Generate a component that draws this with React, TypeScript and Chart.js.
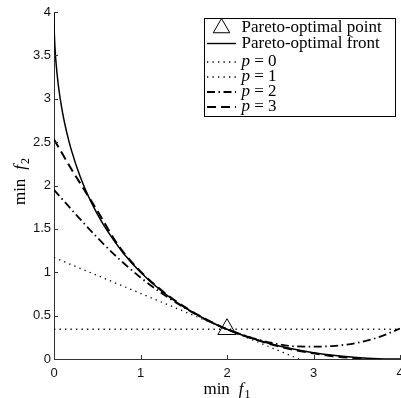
import React, { useEffect, useRef } from "react";
import { Chart, registerables } from "chart.js";

Chart.register(...registerables);

// ---- data ----
const frontX = [0, 0.001, 0.005, 0.01, 0.02, 0.05, 0.1, 0.15, 0.2, 0.3, 0.4, 0.5, 0.6, 0.8, 1, 1.25, 1.5, 1.75, 2, 2.25, 2.5, 2.75, 3, 3.25, 3.5, 3.75, 4];
const frontY = [4.0, 3.875, 3.722, 3.61, 3.455, 3.156, 2.835, 2.601, 2.411, 2.109, 1.87, 1.672, 1.502, 1.222, 1.0, 0.778, 0.601, 0.458, 0.343, 0.25, 0.176, 0.117, 0.072, 0.039, 0.017, 0.004, 0];

const p0X = [0, 4];
const p0Y = [0.343, 0.343];

const p1X = [0, 2, 2.83];
const p1Y = [1.17, 0.343, 0];

const p2X = [0, 0.25, 0.5, 0.75, 1, 1.25, 1.5, 1.75, 2, 2.25, 2.5, 2.75, 3, 3.25, 3.5, 3.75, 4];
const p2Y = [1.95, 1.67, 1.4, 1.155, 0.94, 0.755, 0.595, 0.455, 0.343, 0.255, 0.19, 0.148, 0.142, 0.152, 0.185, 0.25, 0.35];

const p3X = [0, 0.1, 0.2, 0.3, 0.4, 0.5, 0.75, 1, 1.25, 1.5, 1.75, 2, 2.25, 2.5, 2.75, 3, 3.25, 3.5, 3.75, 4];
const p3Y = [2.53, 2.36, 2.19, 2.03, 1.87, 1.71, 1.3, 1.01, 0.785, 0.606, 0.462, 0.343, 0.25, 0.172, 0.11, 0.065, 0.03, 0.008, -0.01, -0.03];

const optX = [2];
const optY = [0.343];

const xTicks = [0, 1, 2, 3, 4];
const yTicks = [0, 0.5, 1, 1.5, 2, 2.5, 3, 3.5, 4];

const legendLabels = ["Pareto-optimal point", "Pareto-optimal front", "p = 0", "p = 1", "p = 2", "p = 3"];
const xTitleMain = "min";
const xTitleVar = "f";
const xTitleSub = "1";
const yTitleMain = "min";
const yTitleVar = "f";
const yTitleSub = "2";

const pts = (xs: number[], ys: number[]) => xs.map((x, i) => ({ x, y: ys[i] }));

const SERIF = '"Liberation Serif", "Times New Roman", serif';
const SANS = '"Liberation Sans", Arial, sans-serif';

const DASH_P0 = [1.3, 4.2];
const DASH_P1 = [1.3, 4.2];
const DASH_P2 = [8, 3.5, 1.5, 3.5];
const DASH_P3 = [9, 5];

function drawTriangle(ctx: CanvasRenderingContext2D, cx: number, cy: number, r: number) {
  ctx.beginPath();
  ctx.moveTo(cx, cy - r);
  ctx.lineTo(cx + r * 0.866, cy + r * 0.5);
  ctx.lineTo(cx - r * 0.866, cy + r * 0.5);
  ctx.closePath();
  ctx.stroke();
}

const tickPlugin = {
  id: "innerTicks",
  afterDraw(chart: any) {
    const { ctx, chartArea, scales } = chart;
    const xs = scales.x, ys = scales.y;
    ctx.save();
    ctx.strokeStyle = "#333";
    ctx.lineWidth = 1;
    ctx.beginPath();
    xTicks.forEach((v) => {
      const px = Math.round(xs.getPixelForValue(v)) + 0.5;
      ctx.moveTo(px, chartArea.bottom);
      ctx.lineTo(px, chartArea.bottom - 4);
    });
    yTicks.forEach((v) => {
      const py = Math.round(ys.getPixelForValue(v)) + 0.5;
      ctx.moveTo(chartArea.left, py);
      ctx.lineTo(chartArea.left + 4, py);
    });
    ctx.stroke();
    ctx.restore();
  },
};

function drawMathTitle(ctx: CanvasRenderingContext2D, main: string, v: string, sub: string, cx: number, baseline: number) {
  const mainFont = `17px ${SERIF}`;
  const varFont = `italic 17px ${SERIF}`;
  const subFont = `12px ${SERIF}`;
  const gap = 9;
  ctx.font = mainFont;
  const wMain = ctx.measureText(main).width;
  ctx.font = varFont;
  const wVar = ctx.measureText(v).width;
  ctx.font = subFont;
  const wSub = ctx.measureText(sub).width;
  const total = wMain + gap + wVar + 1 + wSub;
  let x = cx - total / 2;
  ctx.textBaseline = "alphabetic";
  ctx.textAlign = "left";
  ctx.font = mainFont;
  ctx.fillText(main, x, baseline);
  x += wMain + gap;
  ctx.font = varFont;
  ctx.fillText(v, x, baseline);
  x += wVar + 1;
  ctx.font = subFont;
  ctx.fillText(sub, x, baseline + 4);
}

const titlePlugin = {
  id: "mathTitles",
  afterDraw(chart: any) {
    const { ctx, chartArea } = chart;
    ctx.save();
    ctx.fillStyle = "#000";
    const cx = (chartArea.left + chartArea.right) / 2;
    drawMathTitle(ctx, xTitleMain, xTitleVar, xTitleSub, cx, 394);
    const cy = (chartArea.top + chartArea.bottom) / 2 - 4;
    ctx.translate(25, cy);
    ctx.rotate(-Math.PI / 2);
    drawMathTitle(ctx, yTitleMain, yTitleVar, yTitleSub, 0, 0);
    ctx.restore();
  },
};

const legendPlugin = {
  id: "mathLegend",
  afterDraw(chart: any) {
    const ctx: CanvasRenderingContext2D = chart.ctx;
    const l = 204, t = 18, r = 395, b = 116;
    const rows = [28, 43.5, 62, 77, 92, 107];
    const s0 = 207, s1 = 236, tx = 241.5;
    ctx.save();
    ctx.fillStyle = "#fff";
    ctx.fillRect(l, t, r - l, b - t);
    ctx.strokeStyle = "#000";
    ctx.lineWidth = 1;
    ctx.strokeRect(l + 0.5, t + 0.5, r - l, b - t);
    const styles: { dash: number[]; w: number }[] = [
      { dash: [], w: 0 },
      { dash: [], w: 1.4 },
      { dash: DASH_P0, w: 1.3 },
      { dash: DASH_P1, w: 1.3 },
      { dash: DASH_P2, w: 1.8 },
      { dash: DASH_P3, w: 2 },
    ];
    rows.forEach((ry, i) => {
      const st = styles[i];
      ctx.strokeStyle = "#000";
      if (i === 0) {
        ctx.lineWidth = 1;
        ctx.setLineDash([]);
        drawTriangle(ctx, (s0 + s1) / 2, ry, 9.5);
      } else {
        ctx.lineWidth = st.w;
        ctx.setLineDash(st.dash);
        ctx.beginPath();
        ctx.moveTo(s0, ry);
        ctx.lineTo(s1, ry);
        ctx.stroke();
        ctx.setLineDash([]);
      }
      ctx.fillStyle = "#000";
      ctx.textBaseline = "alphabetic";
      ctx.textAlign = "left";
      const label = legendLabels[i];
      if (label.startsWith("p ")) {
        ctx.font = `italic 17px ${SERIF}`;
        ctx.fillText("p", tx, ry + 4);
        const wp = ctx.measureText("p").width;
        ctx.font = `17px ${SERIF}`;
        ctx.fillText(label.slice(1), tx + wp, ry + 4);
      } else {
        ctx.font = `17px ${SERIF}`;
        ctx.fillText(label, tx, ry + 4);
      }
    });
    ctx.restore();
  },
};

export default function App() {
  const ref = useRef<HTMLCanvasElement>(null);
  useEffect(() => {
    if (!ref.current) return;
    const line = (data: any, dash: number[], w: number) => ({
      data,
      showLine: true,
      borderColor: "#000",
      backgroundColor: "#000",
      borderWidth: w,
      borderDash: dash,
      pointRadius: 0,
      pointHoverRadius: 0,
      cubicInterpolationMode: "monotone",
      fill: false,
    });
    const chart = new Chart(ref.current, {
      type: "scatter",
      data: {
        datasets: [
          {
            label: legendLabels[0],
            data: pts(optX, optY),
            showLine: false,
            pointStyle: "triangle",
            pointRadius: 10.5,
            borderWidth: 1,
            borderColor: "#000",
            backgroundColor: "rgba(0,0,0,0)",
          } as any,
          { label: legendLabels[1], ...line(pts(frontX, frontY), [], 1.5) } as any,
          { label: legendLabels[2], ...line(pts(p0X, p0Y), DASH_P0, 1.3) } as any,
          { label: legendLabels[3], ...line(pts(p1X, p1Y), DASH_P1, 1.3) } as any,
          { label: legendLabels[4], ...line(pts(p2X, p2Y), DASH_P2, 1.8) } as any,
          { label: legendLabels[5], ...line(pts(p3X, p3Y), DASH_P3, 2) } as any,
        ],
      },
      options: {
        animation: false,
        responsive: false,
        devicePixelRatio: 1,
        layout: { autoPadding: false, padding: { top: 12, right: 1, bottom: 0, left: 0 } },
        plugins: { legend: { display: false }, tooltip: { enabled: false } },
        scales: {
          x: {
            type: "linear",
            min: 0,
            max: 4,
            afterBuildTicks: (s: any) => {
              s.ticks = xTicks.map((v) => ({ value: v }));
            },
            afterFit: (s: any) => {
              s.height = 39;
              s.paddingLeft = 0;
              s.paddingRight = 0;
            },
            grid: { display: false, drawTicks: false },
            border: { display: true, color: "#333", width: 1 },
            ticks: {
              padding: 7,
              color: "#111",
              font: { family: SANS, size: 13 },
              maxRotation: 0,
              callback: (v: any) => String(v),
            },
          },
          y: {
            type: "linear",
            min: 0,
            max: 4,
            afterBuildTicks: (s: any) => {
              s.ticks = yTicks.map((v) => ({ value: v }));
            },
            afterFit: (s: any) => {
              s.width = 54;
              s.paddingTop = 0;
              s.paddingBottom = 0;
            },
            grid: { display: false, drawTicks: false },
            border: { display: true, color: "#333", width: 1 },
            ticks: {
              padding: 3,
              color: "#111",
              font: { family: SANS, size: 13 },
              callback: (v: any) => String(v),
            },
          },
        },
      } as any,
      plugins: [tickPlugin, titlePlugin, legendPlugin],
    });
    return () => chart.destroy();
  }, []);
  return (
    <div style={{ position: "absolute", left: 0, top: 0, width: 401, height: 398, background: "#fff" }}>
      <canvas ref={ref} width={401} height={398} style={{ width: 401, height: 398, display: "block" }} />
    </div>
  );
}
